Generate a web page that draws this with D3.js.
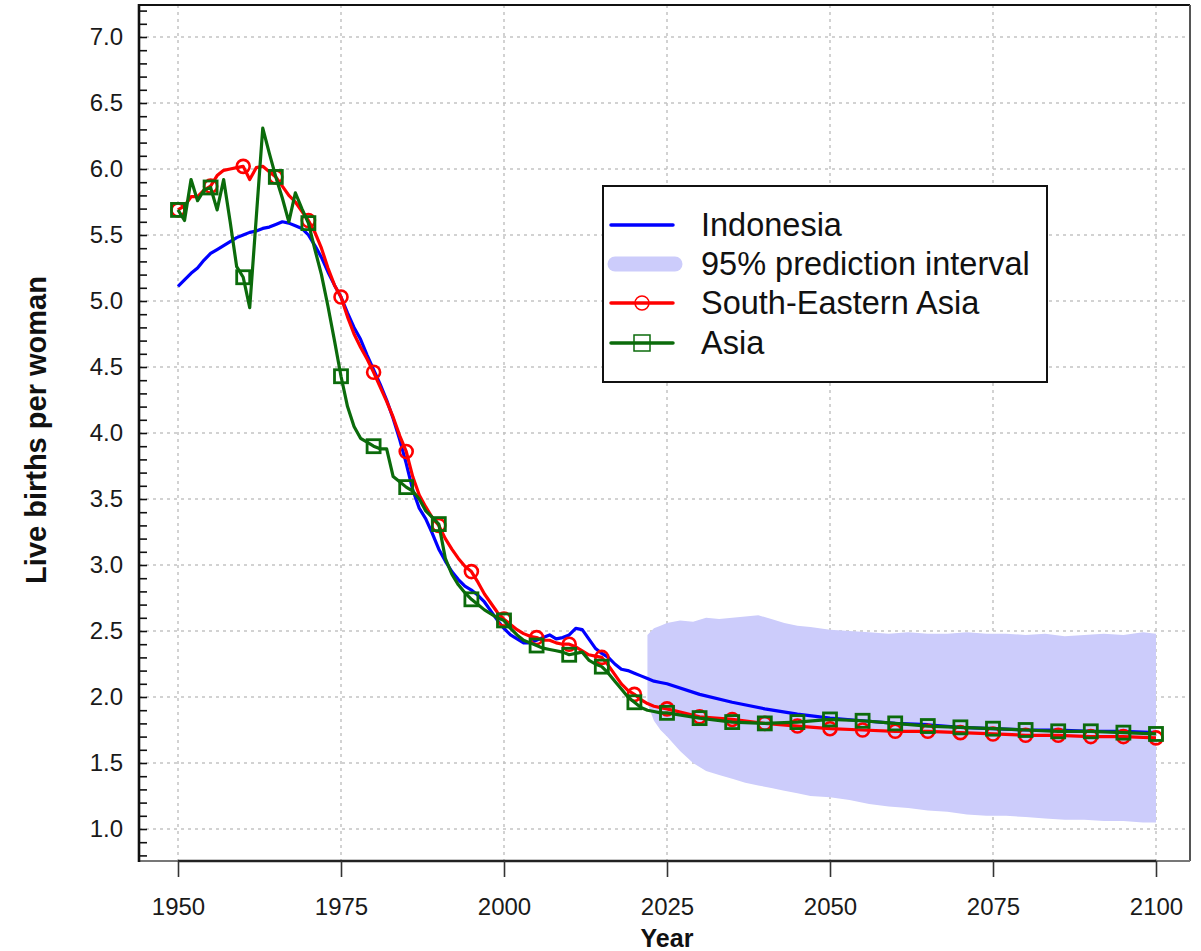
<!DOCTYPE html>
<html>
<head>
<meta charset="utf-8">
<script src="https://cdn.jsdelivr.net/npm/d3@7"></script>
<style>
  html, body { margin: 0; padding: 0; background: #fff; }
  svg { display: block; font-family: "Liberation Sans", Arial, sans-serif; }
</style>
</head>
<body>
<svg id="chart" width="1201" height="951"></svg>
<script>
// ---------------- DATA ----------------
const histYears = d3.range(1950, 2026);           // 1950..2025 annual
const projYears = [2030, 2035, 2040, 2045, 2050, 2055, 2060, 2065, 2070, 2075, 2080, 2085, 2090, 2095, 2100];
const years = histYears.concat(projYears);

const indonesia = [
  5.11, 5.16, 5.21, 5.25, 5.31, 5.36, 5.39, 5.42, 5.45, 5.48,
  5.50, 5.52, 5.53, 5.55, 5.56, 5.58, 5.60, 5.59, 5.57, 5.55,
  5.50, 5.42, 5.33, 5.22, 5.12, 5.03, 4.91, 4.80, 4.71, 4.59,
  4.48, 4.37, 4.25, 4.11, 3.95, 3.77, 3.57, 3.43, 3.35, 3.24,
  3.12, 3.03, 2.95, 2.89, 2.84, 2.81, 2.77, 2.72, 2.65, 2.58,
  2.52, 2.47, 2.44, 2.41, 2.41, 2.43, 2.45, 2.47, 2.44, 2.45,
  2.47, 2.52, 2.51, 2.44, 2.37, 2.33, 2.30, 2.25, 2.21, 2.20,
  2.18, 2.16, 2.14, 2.12, 2.11, 2.10,
  2.02, 1.96, 1.91, 1.87, 1.84, 1.82, 1.80, 1.79, 1.77, 1.76, 1.75, 1.75, 1.74, 1.74, 1.73
];

const seAsia = [
  5.69, 5.72, 5.79, 5.79, 5.84, 5.87, 5.95, 5.99, 6.00, 6.01,
  6.02, 5.92, 6.01, 6.02, 5.98, 5.94, 5.87, 5.80, 5.75, 5.68,
  5.61, 5.52, 5.40, 5.25, 5.12, 5.03, 4.88, 4.75, 4.65, 4.56,
  4.46, 4.35, 4.24, 4.12, 3.98, 3.86, 3.67, 3.53, 3.44, 3.36,
  3.30, 3.20, 3.12, 3.05, 2.99, 2.95, 2.87, 2.78, 2.71, 2.64,
  2.59, 2.55, 2.51, 2.48, 2.46, 2.45, 2.43, 2.43, 2.41, 2.40,
  2.40, 2.38, 2.35, 2.32, 2.31, 2.30, 2.24, 2.17, 2.10, 2.05,
  2.02, 1.98, 1.95, 1.93, 1.92, 1.91,
  1.85, 1.83, 1.80, 1.78, 1.76, 1.75, 1.74, 1.74, 1.73, 1.72, 1.71, 1.71, 1.70, 1.70, 1.69
];

const asia = [
  5.69, 5.61, 5.92, 5.76, 5.84, 5.86, 5.69, 5.92, 5.60, 5.26,
  5.18, 4.95, 5.63, 6.31, 6.12, 5.94, 5.78, 5.60, 5.82, 5.70,
  5.59, 5.39, 5.20, 4.96, 4.70, 4.43, 4.20, 4.05, 3.96, 3.93,
  3.90, 3.88, 3.88, 3.67, 3.63, 3.59, 3.56, 3.50, 3.41, 3.36,
  3.31, 3.05, 2.93, 2.85, 2.79, 2.74, 2.70, 2.66, 2.63, 2.60,
  2.58, 2.52, 2.47, 2.43, 2.41, 2.39, 2.37, 2.36, 2.35, 2.34,
  2.32, 2.33, 2.34, 2.28, 2.25, 2.23, 2.18, 2.12, 2.06, 2.00,
  1.96, 1.92, 1.90, 1.89, 1.88, 1.88,
  1.84, 1.81, 1.80, 1.81, 1.83, 1.82, 1.80, 1.78, 1.77, 1.76, 1.75, 1.74, 1.74, 1.73, 1.72
];

const bandYears = [2022, 2023, 2024, 2025, 2027, 2029, 2031, 2033, 2035, 2037, 2039, 2041, 2043, 2045, 2047, 2050,
  2053, 2056, 2059, 2062, 2065, 2068, 2071, 2074, 2077, 2080, 2083, 2086, 2089, 2092, 2095, 2098, 2100];
const bandUpper = [2.47, 2.52, 2.54, 2.56, 2.58, 2.57, 2.60, 2.59, 2.60, 2.61, 2.62, 2.59, 2.56, 2.54, 2.53, 2.51,
  2.50, 2.49, 2.48, 2.49, 2.48, 2.48, 2.49, 2.48, 2.48, 2.47, 2.48, 2.46, 2.47, 2.48, 2.47, 2.49, 2.48];
const bandLower = [1.95, 1.82, 1.75, 1.70, 1.59, 1.50, 1.44, 1.41, 1.38, 1.35, 1.33, 1.31, 1.29, 1.27, 1.25, 1.24,
  1.22, 1.19, 1.17, 1.16, 1.14, 1.13, 1.11, 1.10, 1.10, 1.09, 1.08, 1.07, 1.07, 1.06, 1.06, 1.05, 1.05];

const xTicks = [1950, 1975, 2000, 2025, 2050, 2075, 2100];
const yTicks = [1.0, 1.5, 2.0, 2.5, 3.0, 3.5, 4.0, 4.5, 5.0, 5.5, 6.0, 6.5, 7.0];
const yMinorTicks = d3.range(8, 73).map(d => d / 10);
const markerYears = d3.range(1950, 2101, 5);

const legendItems = ["Indonesia", "95% prediction interval", "South-Eastern Asia", "Asia"];

// ---------------- LAYOUT ----------------
const svg = d3.select("#chart");
const box = { left: 139, right: 1190, top: 5, bottom: 861 };
const x = d3.scaleLinear().domain([1950, 2100]).range([178, 1156]);
const y = d3.scaleLinear().domain([1.0, 7.0]).range([829, 37]);

const BLUE = "#0000ff", RED = "#ff0000", GREEN = "#0b6b0b", BAND = "#ccccfb";

// gridlines
const grid = svg.append("g");
grid.selectAll("line.h").data(yTicks).join("line")
  .attr("x1", box.left).attr("x2", box.right)
  .attr("y1", d => y(d)).attr("y2", d => y(d))
  .attr("stroke", "#c4c4c4").attr("stroke-width", 1.5).attr("stroke-dasharray", "3,4");
grid.selectAll("line.v").data(xTicks).join("line")
  .attr("y1", box.top).attr("y2", box.bottom)
  .attr("x1", d => x(d)).attr("x2", d => x(d))
  .attr("stroke", "#c4c4c4").attr("stroke-width", 1.5).attr("stroke-dasharray", "3,4");

// band
const area = d3.area()
  .x((d, i) => x(bandYears[i]))
  .y0((d, i) => y(bandLower[i]))
  .y1((d, i) => y(bandUpper[i]))
  .curve(d3.curveLinear);
svg.append("path").datum(bandYears).attr("d", area).attr("fill", BAND);

// lines
function series(vals) { return years.map((yr, i) => [yr, vals[i]]); }
const line = d3.line().x(d => x(d[0])).y(d => y(d[1]));

svg.append("path").datum(series(indonesia)).attr("d", line)
  .attr("fill", "none").attr("stroke", BLUE).attr("stroke-width", 3.2).attr("stroke-linejoin", "round");
svg.append("path").datum(series(seAsia)).attr("d", line)
  .attr("fill", "none").attr("stroke", RED).attr("stroke-width", 3.2).attr("stroke-linejoin", "round");
svg.selectAll("circle.se").data(series(seAsia).filter(d => markerYears.includes(d[0]))).join("circle")
  .attr("cx", d => x(d[0])).attr("cy", d => y(d[1])).attr("r", 6.5)
  .attr("fill", "none").attr("stroke", RED).attr("stroke-width", 2.6);
svg.append("path").datum(series(asia)).attr("d", line)
  .attr("fill", "none").attr("stroke", GREEN).attr("stroke-width", 3.2).attr("stroke-linejoin", "round");
svg.selectAll("rect.as").data(series(asia).filter(d => markerYears.includes(d[0]))).join("rect")
  .attr("x", d => x(d[0]) - 6.5).attr("y", d => y(d[1]) - 6.5).attr("width", 13).attr("height", 13)
  .attr("fill", "none").attr("stroke", GREEN).attr("stroke-width", 2.8);

// box borders
svg.append("line").attr("x1", box.left).attr("x2", box.right).attr("y1", box.top).attr("y2", box.top)
  .attr("stroke", "#111").attr("stroke-width", 2);
svg.append("line").attr("x1", box.right).attr("x2", box.right).attr("y1", box.top).attr("y2", box.bottom)
  .attr("stroke", "#555").attr("stroke-width", 2);
svg.append("line").attr("x1", box.left).attr("x2", box.right).attr("y1", box.bottom).attr("y2", box.bottom)
  .attr("stroke", "#777").attr("stroke-width", 2);

// y axis minor ticks (inward)
const yMinor = svg.append("g").attr("transform", `translate(${box.left},0)`)
  .call(d3.axisRight(y).tickValues(yMinorTicks).tickSize(8).tickFormat(""));
yMinor.select(".domain").remove();
yMinor.selectAll(".tick line").attr("stroke", "#111").attr("stroke-width", 1.6);

// y axis labels
const yAx = svg.append("g").attr("transform", `translate(${box.left},0)`)
  .call(d3.axisLeft(y).tickValues(yTicks).tickSize(0).tickPadding(16).tickFormat(d3.format(".1f")));
yAx.select(".domain").remove();
yAx.selectAll("text").attr("font-size", 24).attr("fill", "#1a1a1a")
  .attr("font-family", "Liberation Sans, Arial, sans-serif");

// left axis line
svg.append("line").attr("x1", box.left).attr("x2", box.left).attr("y1", box.top - 1).attr("y2", box.bottom + 1)
  .attr("stroke", "#111").attr("stroke-width", 2.6);

// x axis
const xAx = svg.append("g").attr("transform", `translate(0,${box.bottom})`)
  .call(d3.axisBottom(x).tickValues(xTicks).tickSize(16).tickPadding(21).tickFormat(d3.format("d")));
xAx.select(".domain").attr("stroke", "#222").attr("stroke-width", 2.6)
  .attr("d", `M${x(1950)},0H${x(2100)}`);
xAx.selectAll(".tick line").attr("stroke", "#333").attr("stroke-width", 1.6);
xAx.selectAll("text").attr("font-size", 24).attr("fill", "#1a1a1a")
  .attr("font-family", "Liberation Sans, Arial, sans-serif");

// axis titles
svg.append("text").attr("x", 667).attr("y", 947).attr("text-anchor", "middle")
  .attr("font-size", 25).attr("font-weight", "bold").attr("fill", "#111").text("Year");
svg.append("text").attr("transform", "translate(46,430) rotate(-90)").attr("text-anchor", "middle")
  .attr("font-size", 29).attr("font-weight", "bold").attr("fill", "#111").text("Live births per woman");

// legend
const lg = svg.append("g");
lg.append("rect").attr("x", 603).attr("y", 186).attr("width", 444).attr("height", 196)
  .attr("fill", "#fff").attr("stroke", "#111").attr("stroke-width", 2);
const rowY = [225, 264, 303, 343];
const lx1 = 611, lx2 = 673, lmid = 642;
legendItems.forEach((name, i) => {
  const ry = rowY[i];
  if (i === 0) {
    lg.append("line").attr("x1", lx1).attr("x2", lx2).attr("y1", ry).attr("y2", ry)
      .attr("stroke", BLUE).attr("stroke-width", 3.5).attr("stroke-linecap", "round");
  } else if (i === 1) {
    lg.append("line").attr("x1", lx1 + 4).attr("x2", lx2 + 2).attr("y1", ry).attr("y2", ry)
      .attr("stroke", BAND).attr("stroke-width", 15).attr("stroke-linecap", "round");
  } else if (i === 2) {
    lg.append("line").attr("x1", lx1).attr("x2", lx2).attr("y1", ry).attr("y2", ry)
      .attr("stroke", RED).attr("stroke-width", 3.5).attr("stroke-linecap", "round");
    lg.append("circle").attr("cx", lmid).attr("cy", ry).attr("r", 7)
      .attr("fill", "none").attr("stroke", RED).attr("stroke-width", 1.5);
  } else {
    lg.append("line").attr("x1", lx1).attr("x2", lx2).attr("y1", ry).attr("y2", ry)
      .attr("stroke", GREEN).attr("stroke-width", 3.5).attr("stroke-linecap", "round");
    lg.append("rect").attr("x", lmid - 8).attr("y", ry - 8).attr("width", 16).attr("height", 16)
      .attr("fill", "none").attr("stroke", GREEN).attr("stroke-width", 1.5);
  }
  lg.append("text").attr("x", 701).attr("y", ry + 11).attr("font-size", 32.5).attr("fill", "#111").text(name);
});
</script>
</body>
</html>
